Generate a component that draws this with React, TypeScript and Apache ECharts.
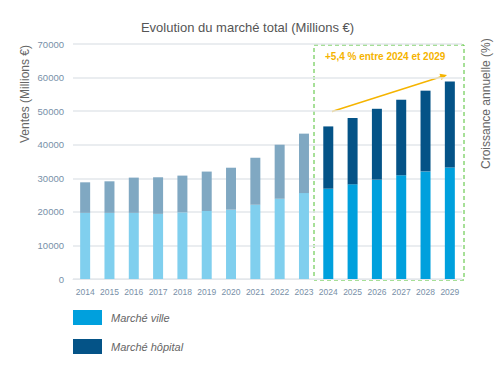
import React, { useEffect, useRef } from "react";
import * as echarts from "echarts";

const years = ["2014","2015","2016","2017","2018","2019","2020","2021","2022","2023","2024","2025","2026","2027","2028","2029"];
const villeValues = [19700, 19700, 19700, 19400, 19850, 20250, 20650, 22150, 23900, 25600, 26900, 28200, 29600, 30900, 32050, 33250];
const hopitalValues = [9100, 9400, 10500, 10900, 10950, 11750, 12500, 14000, 16100, 17700, 18550, 19750, 21100, 22500, 24050, 25550];
const yTicks = { min: 0, max: 70000, interval: 10000 };
const forecastStart = 10;

const villeColor = "#00A0DD";
const villeHistColor = "#80CFEE";
const hopColor = "#045387";
const hopHistColor = "#80A8C2";

export default function App() {
  const ref = useRef<HTMLDivElement>(null);
  useEffect(() => {
    document.body.style.margin = "0";
    if (!ref.current) return;
    const chart = echarts.init(ref.current, null, { renderer: "svg" });
    const font = "'Liberation Sans', Arial, sans-serif";
    chart.setOption({
      animation: false,
      textStyle: { fontFamily: font },
      title: {
        text: "Evolution du marché total (Millions €)",
        left: "center",
        top: 16,
        textStyle: { fontSize: 13, fontWeight: "normal", color: "#555", fontFamily: font },
      },
      grid: { left: 73, right: 33, top: 44, height: 235 },
      legend: {
        orient: "vertical",
        left: 68,
        top: 305,
        itemWidth: 29,
        itemHeight: 15,
        itemGap: 14,
        icon: "rect",
        textStyle: { fontStyle: "italic", fontSize: 11, color: "#666", padding: [0, 0, 0, 4], fontFamily: font },
        data: ["Marché ville", "Marché hôpital"],
      },
      xAxis: {
        type: "category",
        data: years,
        axisLine: { lineStyle: { color: "#E3E7EB" } },
        axisTick: { show: false },
        axisLabel: { fontSize: 8.5, color: "#7890A8", margin: 8, interval: 0 },
      },
      yAxis: [
        {
          type: "value",
          min: yTicks.min,
          max: yTicks.max,
          interval: yTicks.interval,
          axisLabel: { fontSize: 9.5, color: "#7890A8", margin: 9, formatter: (v: number) => String(v) },
          splitLine: { lineStyle: { color: "#E3E7EB", width: 1.5 } },
          axisLine: { show: false },
        },
        {
          type: "value",
          min: 0,
          max: 70000,
          interval: 10000,
          axisLabel: { show: false },
          splitLine: { show: false },
          axisLine: { show: false },
        },
      ],
      series: [
        {
          name: "Marché ville",
          type: "bar",
          stack: "t",
          barWidth: 10,
          color: villeColor,
          data: villeValues.map((v, i) => ({
            value: v,
            itemStyle: { color: i < forecastStart ? villeHistColor : villeColor },
          })),
        },
        {
          name: "Marché hôpital",
          type: "bar",
          stack: "t",
          barWidth: 10,
          color: hopColor,
          data: hopitalValues.map((v, i) => ({
            value: v,
            itemStyle: { color: i < forecastStart ? hopHistColor : hopColor },
          })),
        },
      ],
      graphic: [
        {
          type: "rect",
          shape: { x: 314, y: 45, width: 150, height: 235 },
          style: { fill: "none", stroke: "#4FC030", lineWidth: 1, lineDash: [4, 3] },
        },
        {
          type: "text",
          x: 325,
          y: 51,
          style: { text: "+5,4 % entre 2024 et 2029", fill: "#F5B400", font: `bold 10px ${font}` },
        },
        {
          type: "line",
          shape: { x1: 332, y1: 111.5, x2: 442, y2: 76.5 },
          style: { stroke: "#F5B400", lineWidth: 1.5 },
        },
        {
          type: "polygon",
          shape: { points: [[447, 75], [439.5, 73.7], [441.5, 80]] },
          style: { fill: "#F5B400" },
        },
        {
          type: "text",
          x: 19,
          y: 143,
          rotation: Math.PI / 2,
          style: { text: "Ventes (Millions €)", fill: "#666", font: `12px ${font}`, align: "left", verticalAlign: "top" },
        },
        {
          type: "text",
          x: 480,
          y: 169,
          rotation: Math.PI / 2,
          style: { text: "Croissance annuelle (%)", fill: "#666", font: `12px ${font}`, align: "left", verticalAlign: "top" },
        },
      ],
    });
    return () => chart.dispose();
  }, []);
  return <div ref={ref} style={{ width: 495, height: 387 }} />;
}
